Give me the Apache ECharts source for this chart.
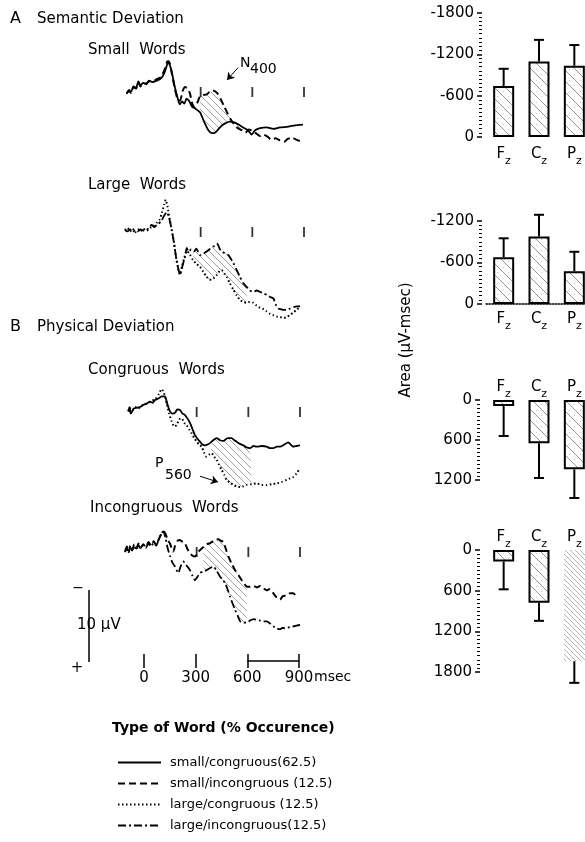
<!DOCTYPE html>
<html><head><meta charset="utf-8">
<script src="https://cdn.jsdelivr.net/npm/echarts@6/dist/echarts.min.js"></script>
<style>html,body{margin:0;padding:0;background:#fff}#c{width:585px;height:842px}</style>
</head><body><div id="c"></div>
<script>
// ---------- DATA ----------
// time (ms), amplitude (µV, negative up)
const smallWordsCong = [[-130,0.5],[-115,0.0],[-105,0.3],[-90,-0.5],[-75,-0.3],[-62,-1.2],[-50,-0.6],[-35,-1.0],[-15,-0.8],[0,-1.3],[20,-1.1],[45,-1.3],[70,-1.6],[90,-2.4],[105,-3.5],[112,-3.8],[122,-3.4],[135,-2.2],[150,-0.4],[163,0.8],[178,2.0],[192,1.6],[205,1.9],[218,1.2],[232,1.5],[250,2.3],[270,2.6],[296,3.1],[320,4.4],[345,5.6],[364,6.0],[385,5.9],[405,5.4],[425,4.9],[445,4.6],[470,4.4],[495,4.5],[520,4.8],[546,5.2],[575,5.6],[596,6.2],[616,5.6],[645,5.3],[683,5.2],[722,5.4],[760,5.2],[809,5.1],[848,4.9],[894,4.8]];
const smallWordsIncong = [[-130,0.5],[-115,0.1],[-105,0.4],[-90,-0.4],[-75,-0.2],[-62,-1.1],[-50,-0.5],[-35,-0.9],[-15,-0.9],[0,-1.2],[20,-1.2],[45,-1.5],[70,-1.8],[90,-2.8],[105,-3.9],[112,-4.0],[122,-3.6],[135,-2.0],[150,-0.2],[165,1.2],[180,1.5],[195,0.2],[209,-0.4],[225,-0.2],[238,0.5],[252,2.0],[265,2.4],[280,1.8],[296,0.9],[315,0.7],[335,0.6],[355,0.2],[375,0.1],[395,0.4],[415,1.2],[435,2.2],[455,3.2],[475,4.1],[495,4.8],[515,5.3],[540,5.6],[560,5.9],[580,5.5],[600,5.7],[620,6.0],[645,6.4],[665,6.2],[690,6.5],[710,6.9],[735,6.7],[760,7.0],[785,7.2],[805,6.8],[830,6.6],[855,6.9],[875,7.1],[894,7.3]];
const largeWordsCong = [[-140,0.0],[-125,-0.3],[-110,0.2],[-95,-0.2],[-80,0.3],[-65,-0.1],[-50,0.2],[-35,-0.2],[-15,0.1],[5,-0.3],[25,-0.5],[45,-1.0],[60,-1.4],[75,-2.4],[88,-3.5],[97,-4.2],[108,-3.2],[120,-1.5],[132,0.0],[145,1.8],[160,4.2],[172,5.6],[180,6.2],[192,5.0],[205,3.9],[219,2.9],[235,3.3],[256,4.2],[276,4.7],[296,5.1],[315,5.8],[335,6.5],[350,6.9],[364,6.9],[380,6.6],[395,6.2],[410,5.7],[422,5.6],[436,6.0],[451,6.5],[470,7.4],[490,8.3],[510,9.1],[528,9.7],[547,10.0],[567,10.1],[585,10.0],[604,10.1],[625,10.5],[645,10.8],[665,11.0],[683,11.3],[700,11.6],[720,11.8],[740,12.0],[761,12.1],[780,12.2],[800,12.1],[818,11.8],[836,11.5],[856,11.1],[877,10.7]];
const largeWordsIncong = [[-140,0.0],[-125,0.2],[-110,-0.1],[-95,0.3],[-80,0.0],[-65,0.2],[-50,-0.1],[-30,0.1],[-13,0.0],[5,-0.5],[16,-0.7],[30,-0.4],[50,-0.8],[70,-1.2],[88,-2.0],[103,-2.5],[118,-1.6],[132,0.0],[145,1.8],[160,4.2],[172,5.6],[180,6.25],[192,5.2],[209,3.7],[219,2.5],[230,3.0],[245,2.7],[260,3.0],[275,2.6],[296,3.5],[315,3.3],[335,3.0],[355,2.6],[373,2.3],[387,2.1],[397,1.9],[410,2.6],[422,3.0],[440,3.2],[461,3.5],[475,4.0],[490,4.6],[510,5.6],[528,6.5],[548,7.4],[567,7.9],[585,8.4],[606,8.6],[625,8.4],[645,8.6],[665,8.8],[683,9.0],[703,9.3],[722,9.5],[735,10.3],[750,10.9],[765,11.0],[780,11.1],[800,11.1],[819,10.9],[840,10.7],[858,10.6],[877,10.6]];
const congSmall = [[-97,0.2],[-90,-0.4],[-83,0.5],[-75,0.2],[-65,-0.2],[-48,-0.3],[-30,-0.4],[-10,-0.7],[10,-0.9],[29,-1.15],[45,-1.0],[58,-1.4],[78,-1.6],[97,-1.9],[116,-1.9],[130,-0.8],[145,0.2],[160,0.5],[174,0.4],[188,-0.1],[203,0.0],[218,0.5],[232,0.7],[247,1.2],[261,1.8],[275,2.6],[290,3.5],[305,4.0],[319,4.4],[334,4.8],[348,4.9],[362,4.8],[377,4.6],[396,4.2],[416,3.9],[435,4.2],[455,4.3],[480,3.9],[503,3.9],[518,4.2],[532,4.4],[551,4.7],[571,4.9],[590,5.2],[610,5.3],[630,5.0],[649,5.1],[678,5.0],[707,5.1],[726,5.3],[745,5.3],[765,5.1],[784,5.1],[808,4.8],[832,4.5],[846,4.8],[861,5.1],[880,5.0],[900,4.9]];
const congLarge = [[-97,0.2],[-88,-0.3],[-80,0.4],[-70,0.0],[-55,-0.4],[-40,-0.2],[-20,-0.6],[0,-0.8],[20,-1.0],[40,-1.3],[60,-1.5],[80,-2.2],[97,-2.9],[110,-2.4],[126,-0.9],[140,0.5],[155,1.6],[170,2.3],[184,2.1],[198,1.3],[213,1.15],[228,1.8],[242,2.1],[257,2.7],[271,3.25],[286,3.9],[300,4.4],[315,4.8],[329,5.1],[343,5.9],[358,6.5],[372,6.2],[387,6.0],[402,6.5],[416,6.9],[430,7.6],[445,8.3],[460,9.0],[474,9.7],[494,10.1],[513,10.4],[532,10.6],[552,10.7],[571,10.6],[591,10.4],[620,10.3],[649,10.2],[678,10.4],[707,10.4],[736,10.3],[765,10.2],[794,10.0],[823,9.7],[842,9.5],[861,9.3],[880,8.8],[900,8.1]];
const incongSmall = [[-116,0.2],[-105,-0.5],[-95,0.3],[-85,-0.6],[-75,0.0],[-62,-0.8],[-50,-0.2],[-38,-0.9],[-25,-0.3],[-10,-0.8],[5,-0.4],[20,-1.1],[35,-0.6],[50,-1.2],[65,-0.7],[80,-1.5],[95,-2.2],[106,-2.6],[118,-2.3],[132,-1.4],[145,-0.9],[155,-0.2],[164,0.2],[175,-0.6],[190,-1.3],[203,-1.4],[218,-1.1],[232,-0.9],[247,-0.1],[261,0.4],[276,0.8],[290,0.9],[305,0.4],[320,0.0],[339,-0.4],[358,-0.8],[373,-0.9],[387,-1.1],[405,-1.4],[426,-1.5],[440,-1.3],[455,-1.1],[470,-0.1],[484,0.9],[503,1.9],[523,2.8],[543,3.5],[562,4.2],[577,4.7],[591,5.1],[610,5.1],[630,5.0],[650,5.2],[668,5.0],[687,5.3],[706,5.6],[725,5.4],[745,6.0],[765,6.6],[784,6.9],[800,6.4],[823,6.3],[842,6.0],[861,6.0],[875,6.3],[890,6.5]];
const incongLarge = [[-116,0.3],[-105,-0.3],[-95,0.4],[-85,-0.4],[-75,0.1],[-62,-0.6],[-50,0.0],[-38,-0.7],[-25,-0.2],[-10,-0.7],[5,-0.3],[20,-0.9],[35,-0.5],[50,-1.0],[65,-0.6],[80,-1.5],[95,-2.3],[106,-2.6],[118,-1.8],[132,-0.2],[145,0.8],[160,1.8],[174,2.3],[193,3.2],[208,2.2],[222,1.6],[240,2.1],[261,2.8],[276,3.6],[290,4.2],[305,3.7],[319,3.2],[338,3.0],[358,2.8],[378,2.5],[397,2.3],[416,2.9],[436,3.7],[450,4.1],[465,4.6],[480,5.5],[494,6.5],[508,7.4],[523,8.3],[538,9.1],[552,9.9],[572,10.1],[591,10.1],[610,9.8],[630,9.6],[649,9.7],[668,9.8],[687,9.9],[707,9.9],[726,10.2],[745,10.6],[765,10.9],[784,11.0],[800,10.8],[813,10.9],[830,10.8],[846,10.6],[861,10.6],[880,10.5],[900,10.4]];

// shaded (difference) intervals, ms
const shadeSmallWords = [296, 569];
const shadeLargeWords = [256, 569];
const shadeCongruous = [377, 620];
const shadeIncongruous = [337, 592];

const waveTicks = [300, 600, 900];       // ms marks above each trace
const timeScaleBar = [600, 900];         // ms
const calibMicroV = [0, 10];             // 10 µV calibration
const n400Arrow = [[517, -3.1], [453, -1.4]];
const p560Arrow = [[319, 9.2], [424, 10.0]];

// Area (µV-msec) by electrode site
const sites = ['Fz', 'Cz', 'Pz'];
const areaSmallWords = [-740, -1095, -1035];
const seSmallWords = [250, 315, 300];
const areaLargeWords = [-675, -975, -475];
const seLargeWords = [275, 315, 280];
const areaCongruous = [90, 650, 1040];
const seCongruous = [450, 520, 430];
const areaIncongruous = [170, 780, 1640];
const seIncongruous = [410, 265, 320];

const legendNames = ['small/congruous(62.5)', 'small/incongruous (12.5)', 'large/congruous (12.5)', 'large/incongruous(12.5)'];

// ---------- STYLE ----------
const FONT = '"DejaVu Sans"';
function makeHatch(size, color, lw, dots) {
  const c = document.createElement('canvas'); c.width = size; c.height = size;
  const g = c.getContext('2d');
  if (dots) { g.fillStyle = '#c8c8c8'; g.fillRect(2, size - 3, 1, 1); g.fillRect(size - 3, 3, 1, 1); g.fillRect(1, 1, 1, 1); }
  g.strokeStyle = color; g.lineWidth = lw; g.beginPath();
  g.moveTo(-1, -1); g.lineTo(size + 1, size + 1);
  g.moveTo(size - 1, -1); g.lineTo(size + 1, 1);
  g.moveTo(-1, size - 1); g.lineTo(1, size + 1);
  g.stroke();
  return { image: c, repeat: 'repeat' };
}
const waveHatch = makeHatch(7, '#777', 0.7, false);
const barHatch = makeHatch(11, '#888', 0.9, true);
const denseHatch = makeHatch(5, '#aaa', 0.9, false);

const SOLID = { color: '#000', width: 1.8, type: 'solid' };
const DASH = { color: '#000', width: 2, type: [7, 4] };
const DOT = { color: '#000', width: 2, type: [1.5, 2.5] };
const DASHDOT = { color: '#000', width: 1.8, type: [8, 3, 2, 3] };

const kx = 155 / 900, ky = 7.2;
function waveGrid(x0, y0) {
  return { left: x0 - 300 * kx, width: 1200 * kx, top: y0 - 6 * ky, height: 20 * ky, outerBoundsMode: 'none' };
}
const grids = [
  waveGrid(149, 90), waveGrid(149, 230), waveGrid(145, 410), waveGrid(145, 550),
  { left: 144, top: 654, width: 155, height: 14, outerBoundsMode: 'none' },
  { left: 89, top: 590, width: 10, height: 72, outerBoundsMode: 'none' },
  { left: 486, top: 13, width: 106, height: 124, outerBoundsMode: 'none' },
  { left: 486, top: 221, width: 106, height: 83, outerBoundsMode: 'none' },
  { left: 486, top: 400, width: 106, height: 80, outerBoundsMode: 'none' },
  { left: 486, top: 550, width: 106, height: 122, outerBoundsMode: 'none' }
];

const xAxes = [], yAxes = [], series = [];
for (let i = 0; i < 4; i++) {
  xAxes.push({ type: 'value', gridIndex: i, min: -300, max: 900, show: false });
  yAxes.push({ type: 'value', gridIndex: i, min: -6, max: 14, inverse: true, show: false });
}
// time axis
xAxes.push({ type: 'value', gridIndex: 4, min: 0, max: 900, interval: 300, position: 'bottom',
  axisLine: { show: false }, splitLine: { show: false },
  axisTick: { show: true, inside: true, length: 14, lineStyle: { color: '#000', width: 1.5 } },
  axisLabel: { margin: 3, fontSize: 15, color: '#000', fontFamily: FONT } });
yAxes.push({ type: 'value', gridIndex: 4, min: 0, max: 1, show: false });
// calibration
xAxes.push({ type: 'value', gridIndex: 5, min: 0, max: 10, show: false });
yAxes.push({ type: 'value', gridIndex: 5, min: 0, max: 10, inverse: true, show: false });

const richSite = {
  b: { fontSize: 15, lineHeight: 20, verticalAlign: 'top', color: '#000', fontFamily: FONT },
  s: { fontSize: 11, lineHeight: 12, verticalAlign: 'bottom', color: '#000', fontFamily: FONT }
};
function barAxes(gi, min, max, offset, pos, margin, lineShow) {
  xAxes.push({ type: 'category', gridIndex: gi, data: sites, position: pos,
    axisLine: { show: lineShow, onZero: false, lineStyle: { type: 'dotted', color: '#000', width: 1.5 } },
    axisTick: { show: false }, splitLine: { show: false },
    axisLabel: { interval: 0, hideOverlap: false, margin, formatter: v => '{b|' + v[0] + '}{s|' + v.slice(1) + '}', rich: richSite } });
  yAxes.push({ type: 'value', gridIndex: gi, min, max, interval: 600, inverse: true, offset,
    axisLine: { show: false }, splitLine: { show: false },
    axisTick: { show: true, length: 5, lineStyle: { color: '#000', width: 1.5 } },
    minorTick: { show: true, splitNumber: 10, length: 3, lineStyle: { color: '#000', width: 1 } },
    axisLabel: { fontSize: 15, color: '#000', margin: 8, fontFamily: FONT, formatter: v => String(v) } });
}
barAxes(6, -1800, 0, 4, 'bottom', 10, false);
barAxes(7, -1200, 0, 4, 'bottom', 8, true);
barAxes(8, 0, 1200, 6, 'top', 0, false);
barAxes(9, 0, 1800, 6, 'top', 0, false);

function wave(gi, name, data, style, extra) {
  return Object.assign({ type: 'line', name, xAxisIndex: gi, yAxisIndex: gi, data, symbol: 'none', showSymbol: false,
    smooth: 0.2, lineStyle: style, itemStyle: { color: '#000' }, z: 3, silent: true, animation: false }, extra || {});
}
function shade(gi, upper, lower, range) {
  return { type: 'custom', xAxisIndex: gi, yAxisIndex: gi, silent: true, z: 1, data: [range],
    renderItem: (params, api) => {
      const a = upper.filter(p => p[0] >= range[0] && p[0] <= range[1]);
      const b = lower.filter(p => p[0] >= range[0] && p[0] <= range[1]).reverse();
      const pts = a.concat(b).map(p => api.coord(p));
      return { type: 'polygon', shape: { points: pts }, style: { fill: waveHatch, stroke: null } };
    } };
}
function ticks(gi) {
  return { type: 'scatter', xAxisIndex: gi, yAxisIndex: gi, data: waveTicks.map(t => [t, 0]), symbol: 'rect',
    symbolSize: [1.8, 10], symbolOffset: [0, 2], itemStyle: { color: '#000' }, silent: true, z: 3 };
}
function arrow(pts) {
  return { silent: true, symbol: ['none', 'arrow'], symbolSize: 7, label: { show: false },
    lineStyle: { color: '#000', width: 1, type: 'solid' }, emphasis: { disabled: true },
    data: [[{ coord: pts[0] }, { coord: pts[1] }]] };
}

// A: semantic deviation
series.push(wave(0, legendNames[0], smallWordsCong, SOLID, { markLine: arrow(n400Arrow) }));
series.push(wave(0, legendNames[1], smallWordsIncong, DASH));
series.push(shade(0, smallWordsCong, smallWordsIncong, shadeSmallWords));
series.push(ticks(0));
series.push(wave(1, legendNames[2], largeWordsCong, DOT));
series.push(wave(1, legendNames[3], largeWordsIncong, DASHDOT));
series.push(shade(1, largeWordsIncong, largeWordsCong, shadeLargeWords));
series.push(ticks(1));
// B: physical deviation
series.push(wave(2, legendNames[0], congSmall, SOLID, { markLine: arrow(p560Arrow) }));
series.push(wave(2, legendNames[2], congLarge, DOT));
series.push(shade(2, congSmall, congLarge, shadeCongruous));
series.push(ticks(2));
series.push(wave(3, legendNames[1], incongSmall, DASH));
series.push(wave(3, legendNames[3], incongLarge, DASHDOT));
series.push(shade(3, incongSmall, incongLarge, shadeIncongruous));
series.push(ticks(3));
// time scale bar
series.push({ type: 'line', xAxisIndex: 4, yAxisIndex: 4, data: timeScaleBar.map(t => [t, 0.5]), symbol: 'none',
  lineStyle: { color: '#000', width: 1.5 }, silent: true });
// calibration bar
series.push({ type: 'line', xAxisIndex: 5, yAxisIndex: 5, data: calibMicroV.map(v => [0, v]), symbol: 'none',
  lineStyle: { color: '#000', width: 1.5 }, silent: true });

function bars(gi, vals, se, special) {
  series.push({ type: 'bar', xAxisIndex: gi, yAxisIndex: gi, barWidth: 21, silent: true,
    data: vals.map((v, i) => (special && i === 2) ? { value: v, itemStyle: { color: denseHatch, borderWidth: 0 } } : v),
    itemStyle: { color: barHatch, borderColor: '#000', borderWidth: 2 } });
  series.push({ type: 'custom', xAxisIndex: gi, yAxisIndex: gi, silent: true, z: 5,
    data: vals.map((v, i) => [i, v, v + Math.sign(v) * se[i]]),
    renderItem: (params, api) => {
      const p0 = api.coord([api.value(0), api.value(1)]);
      const p1 = api.coord([api.value(0), api.value(2)]);
      return { type: 'group', children: [
        { type: 'line', shape: { x1: p0[0], y1: p0[1], x2: p1[0], y2: p1[1] }, style: { stroke: '#000', lineWidth: 2 } },
        { type: 'line', shape: { x1: p1[0] - 5, y1: p1[1], x2: p1[0] + 5, y2: p1[1] }, style: { stroke: '#000', lineWidth: 2 } }
      ] };
    } });
}
bars(6, areaSmallWords, seSmallWords, false);
bars(7, areaLargeWords, seLargeWords, false);
bars(8, areaCongruous, seCongruous, false);
bars(9, areaIncongruous, seIncongruous, true);

function txt(text, x, y, size, extra) {
  return Object.assign({ type: 'text', x, y, silent: true,
    style: Object.assign({ text, font: size + 'px ' + FONT, fill: '#000', align: 'left', verticalAlign: 'middle' }, (extra && extra.style) || {}) },
    extra && extra.el ? extra.el : {});
}
const graphics = [
  txt('A', 10, 19, 16), txt('Semantic Deviation', 37, 19, 15),
  txt('Small  Words', 88, 50, 15),
  txt('N', 240, 63, 14), txt('400', 250, 69, 14),
  txt('Large  Words', 88, 185, 15),
  txt('B', 10, 327, 16), txt('Physical Deviation', 37, 327, 15),
  txt('Congruous  Words', 88, 370, 15),
  txt('P', 155, 463, 14), txt('560', 165, 475, 14),
  txt('Incongruous  Words', 90, 508, 15),
  txt('\u2212', 78, 588, 14, { style: { align: 'center' } }),
  txt('+', 77, 668, 15, { style: { align: 'center' } }),
  txt('10 \u00b5V', 77, 625, 15, { style: { backgroundColor: '#fff', padding: [3, 0, 3, 0] } }),
  txt('msec', 314, 677, 14),
  txt('Type of Word (% Occurence)', 112, 728, 14, { style: { font: 'bold 14px ' + FONT } }),
  txt('Area (\u00b5V-msec)', 406, 340, 15, { style: { align: 'center' }, el: { rotation: Math.PI / 2 } })
];

const chart = echarts.init(document.getElementById('c'), null, { renderer: 'canvas', width: 585, height: 842 });
chart.setOption({
  animation: false,
  backgroundColor: '#fff',
  textStyle: { fontFamily: FONT, color: '#000' },
  grid: grids, xAxis: xAxes, yAxis: yAxes, series,
  legend: { orient: 'vertical', left: 112, top: 751, itemWidth: 43, itemHeight: 12, itemGap: 8,
    data: legendNames, selectedMode: false,
    itemStyle: { color: 'rgba(0,0,0,0)', borderWidth: 0, opacity: 0 },
    textStyle: { fontSize: 13, color: '#000', fontFamily: FONT, padding: [0, 0, 0, 4] } },
  graphic: graphics
});
</script></body></html>
